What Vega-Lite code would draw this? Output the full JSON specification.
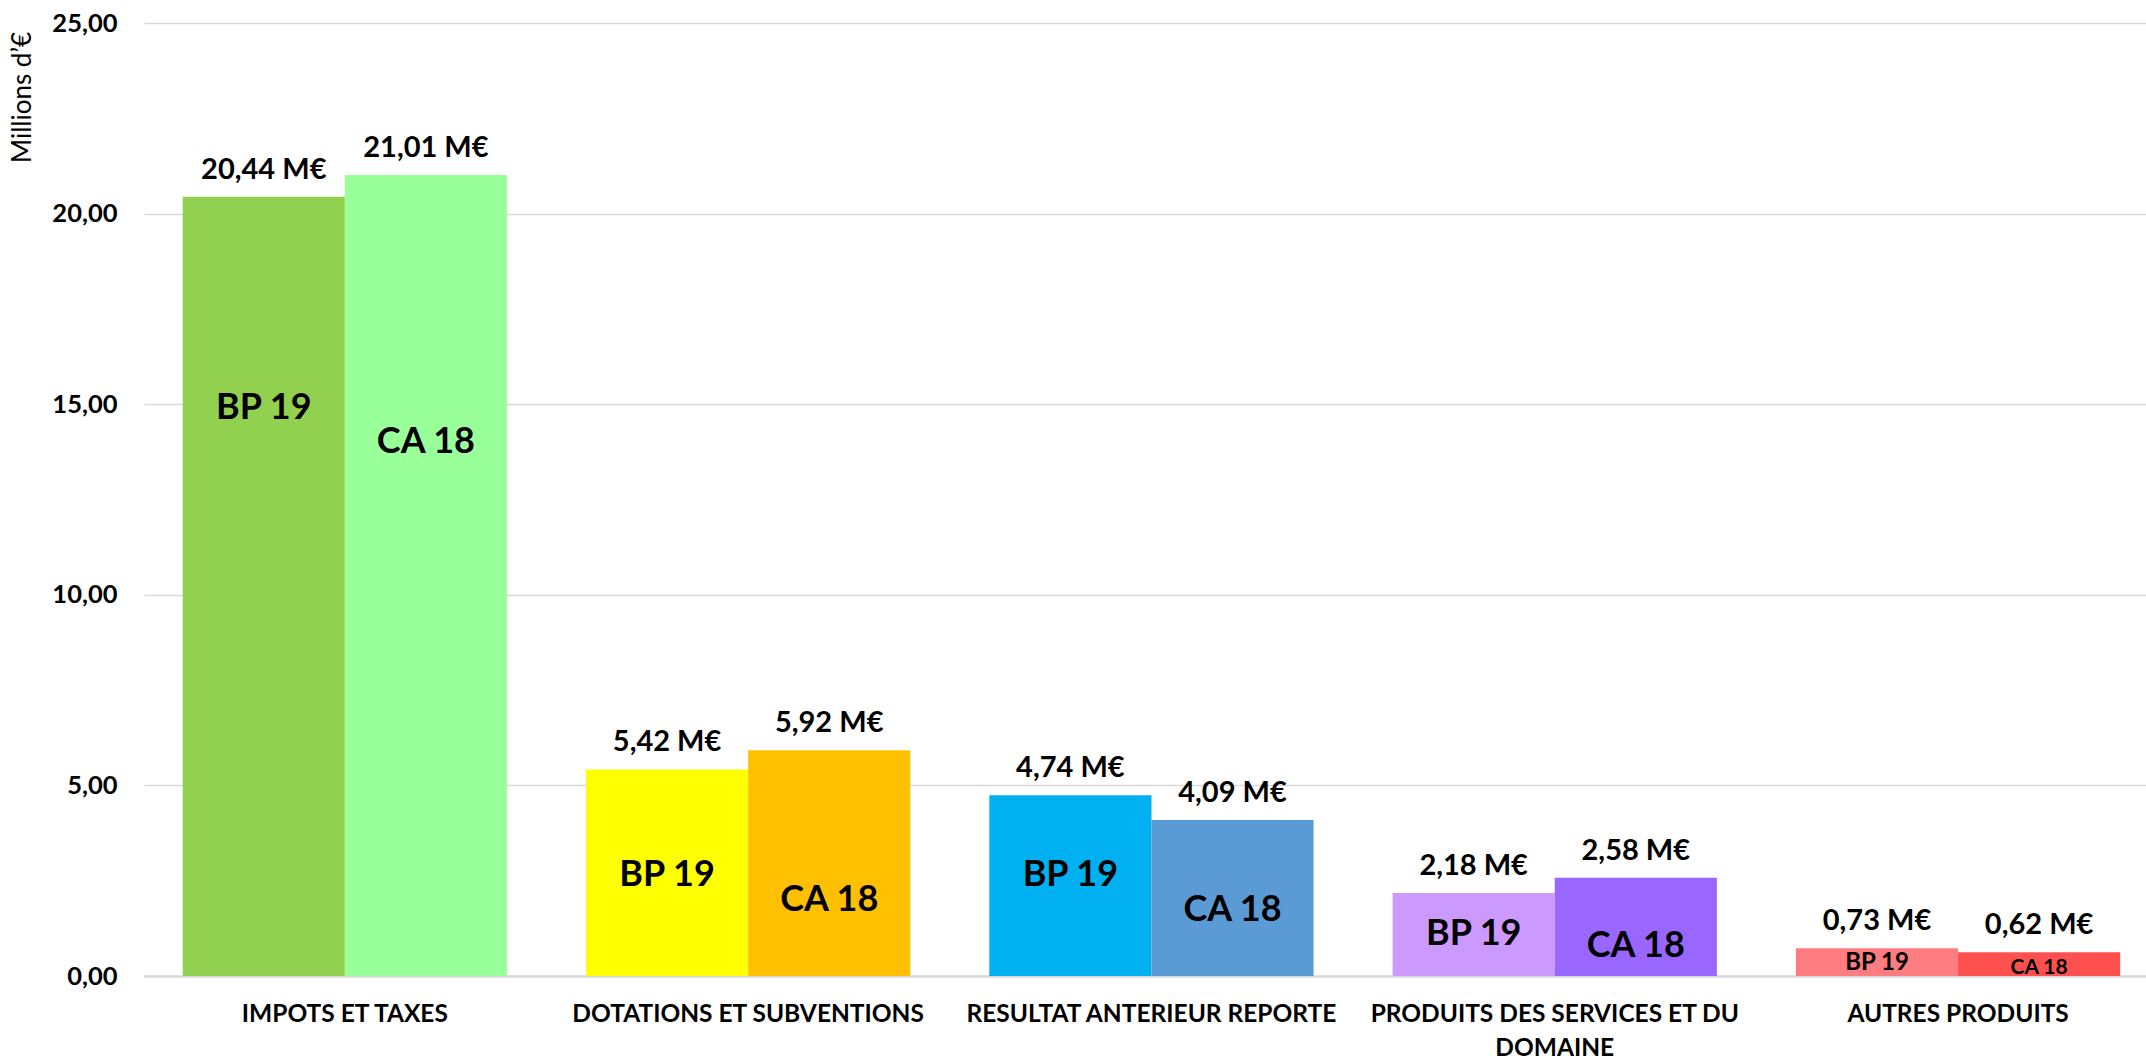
{
  "$schema": "https://vega.github.io/schema/vega-lite/v6.json",
  "width": 2002,
  "height": 953,
  "autosize": {"type": "none"},
  "padding": {"left": 144, "top": 23, "right": 0, "bottom": 85},
  "background": "white",
  "config": {
    "font": "Lato",
    "view": {"stroke": null},
    "axis": {"labelFont": "Lato", "titleFont": "Lato"}
  },
  "data": {
    "values": [
      {"categorie": "IMPOTS ET TAXES", "serie": "BP 19", "valeur": 20.44, "posEtiquette": 14.9},
      {"categorie": "IMPOTS ET TAXES", "serie": "CA 18", "valeur": 21.01, "posEtiquette": 14.0},
      {"categorie": "DOTATIONS ET SUBVENTIONS", "serie": "BP 19", "valeur": 5.42, "posEtiquette": 2.64},
      {"categorie": "DOTATIONS ET SUBVENTIONS", "serie": "CA 18", "valeur": 5.92, "posEtiquette": 1.99},
      {"categorie": "RESULTAT ANTERIEUR REPORTE", "serie": "BP 19", "valeur": 4.74, "posEtiquette": 2.64},
      {"categorie": "RESULTAT ANTERIEUR REPORTE", "serie": "CA 18", "valeur": 4.09, "posEtiquette": 1.73},
      {"categorie": "PRODUITS DES SERVICES ET DU DOMAINE", "serie": "BP 19", "valeur": 2.18, "posEtiquette": 1.09},
      {"categorie": "PRODUITS DES SERVICES ET DU DOMAINE", "serie": "CA 18", "valeur": 2.58, "posEtiquette": 0.80},
      {"categorie": "AUTRES PRODUITS", "serie": "BP 19", "valeur": 0.73, "posEtiquette": 0.34},
      {"categorie": "AUTRES PRODUITS", "serie": "CA 18", "valeur": 0.62, "posEtiquette": 0.22}
    ]
  },
  "transform": [
    {"calculate": "datum.categorie + '|' + datum.serie", "as": "cle"},
    {"calculate": "replace(format(datum.valeur, '.2f'), '.', ',') + ' M€'", "as": "texteValeur"}
  ],
  "encoding": {
    "x": {
      "field": "categorie",
      "type": "nominal",
      "sort": null,
      "scale": {"paddingInner": 0.196, "paddingOuter": 0.08, "align": 0.6},
      "axis": {
        "title": null,
        "labelAngle": 0,
        "ticks": false,
        "domain": true,
        "domainColor": "#D9D9D9",
        "domainWidth": 2.5,
        "labelFontSize": 24.5,
        "labelFontWeight": "bold",
        "labelColor": "#000000",
        "labelPadding": 26,
        "labelBaseline": "top",
        "labelLineHeight": 34,
        "labelLimit": 500,
        "labelExpr": "datum.label == 'PRODUITS DES SERVICES ET DU DOMAINE' ? ['PRODUITS DES SERVICES ET DU', 'DOMAINE'] : datum.label"
      }
    },
    "xOffset": {"field": "serie", "type": "nominal", "scale": {"domain": ["BP 19", "CA 18"], "paddingInner": 0, "paddingOuter": 0}}
  },
  "layer": [
    {
      "mark": {"type": "bar"},
      "encoding": {
        "y": {
          "field": "valeur",
          "type": "quantitative",
          "scale": {"domain": [0, 25], "nice": false},
          "axis": {
            "values": [0, 5, 10, 15, 20, 25],
            "title": "Millions d’€",
            "titleFontSize": 26,
            "titleFontWeight": "normal",
            "titleColor": "#000000",
            "titleAngle": 270,
            "titleAlign": "center",
            "titleBaseline": "middle",
            "titleX": -122,
            "titleY": 74,
            "ticks": false,
            "domain": false,
            "grid": true,
            "gridColor": "#D9D9D9",
            "gridWidth": 1.5,
            "labelFontSize": 25.5,
            "labelFontWeight": "bold",
            "labelColor": "#000000",
            "labelPadding": 27,
            "labelExpr": "replace(format(datum.value, '.2f'), '.', ',')"
          }
        },
        "color": {
          "field": "cle",
          "type": "nominal",
          "legend": null,
          "scale": {
            "domain": [
              "IMPOTS ET TAXES|BP 19", "IMPOTS ET TAXES|CA 18",
              "DOTATIONS ET SUBVENTIONS|BP 19", "DOTATIONS ET SUBVENTIONS|CA 18",
              "RESULTAT ANTERIEUR REPORTE|BP 19", "RESULTAT ANTERIEUR REPORTE|CA 18",
              "PRODUITS DES SERVICES ET DU DOMAINE|BP 19", "PRODUITS DES SERVICES ET DU DOMAINE|CA 18",
              "AUTRES PRODUITS|BP 19", "AUTRES PRODUITS|CA 18"
            ],
            "range": [
              "#92D050", "#99FF99",
              "#FFFF00", "#FFC000",
              "#00B0F0", "#5B9BD5",
              "#CC99FF", "#9966FF",
              "#FF7C80", "#FF5050"
            ]
          }
        }
      }
    },
    {
      "mark": {"type": "text", "baseline": "middle", "align": "center", "dy": -27, "fontSize": 29, "fontWeight": "bold", "color": "#000000"},
      "encoding": {
        "y": {"field": "valeur", "type": "quantitative"},
        "text": {"field": "texteValeur", "type": "nominal"}
      }
    },
    {
      "mark": {"type": "text", "baseline": "middle", "align": "center", "fontWeight": "bold", "color": "#000000"},
      "encoding": {
        "y": {"field": "posEtiquette", "type": "quantitative"},
        "text": {"field": "serie", "type": "nominal"},
        "size": {
          "condition": [
            {"test": "datum.categorie == 'AUTRES PRODUITS' && datum.serie == 'BP 19'", "value": 24},
            {"test": "datum.categorie == 'AUTRES PRODUITS' && datum.serie == 'CA 18'", "value": 21}
          ],
          "value": 36
        }
      }
    }
  ]
}
